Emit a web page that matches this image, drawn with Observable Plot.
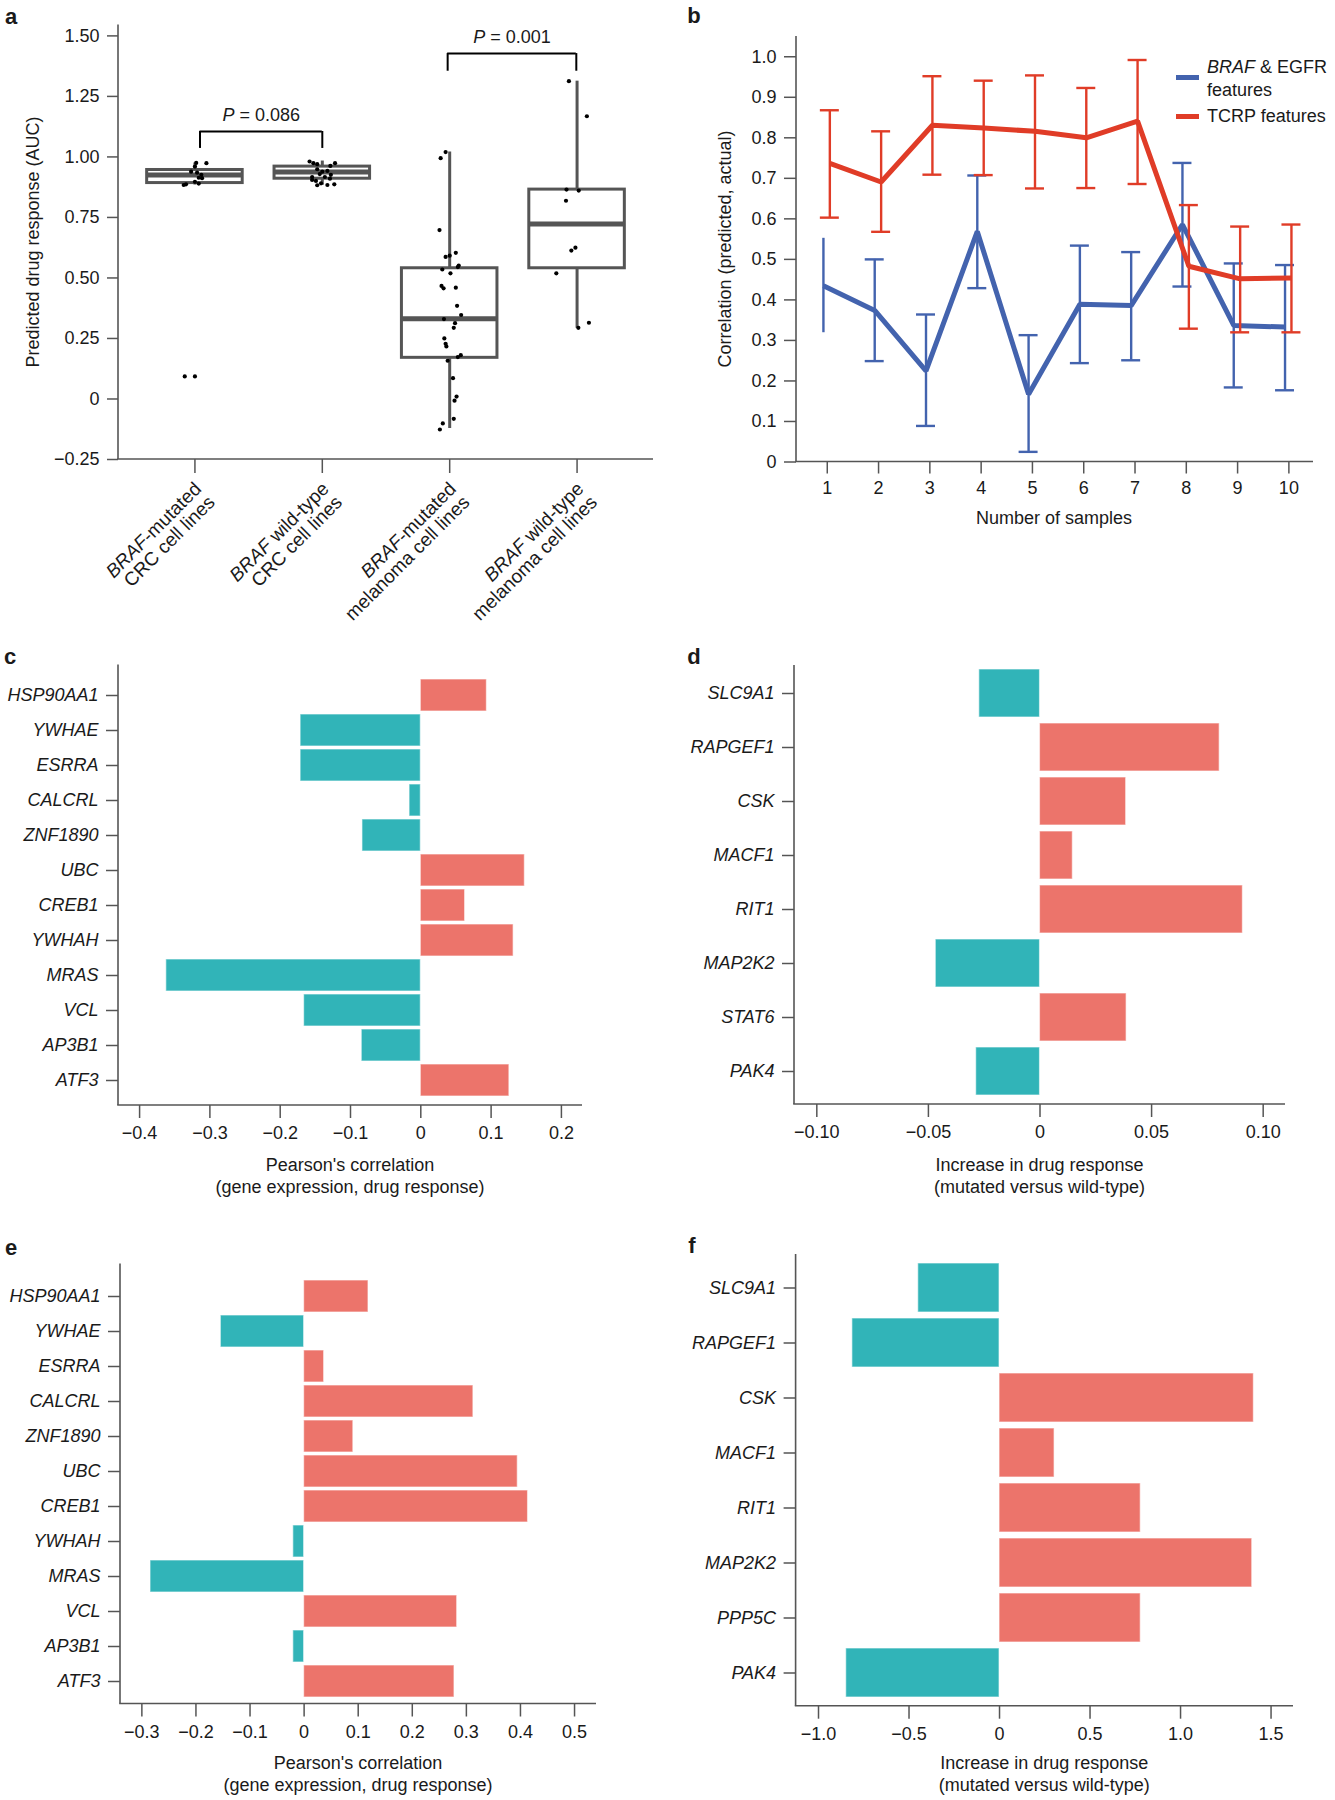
<!DOCTYPE html>
<html><head><meta charset="utf-8">
<script src="https://cdn.jsdelivr.net/npm/d3@7"></script>
<script src="https://cdn.jsdelivr.net/npm/@observablehq/plot@0.6"></script>
<style>
body{margin:0;background:#fff;font-family:"Liberation Sans",Arial,sans-serif;color:#1a1a1a;}
#page{position:relative;width:1335px;height:1800px;overflow:hidden;background:#fff;}
.panel{position:absolute;}
.t{position:absolute;font-size:18px;line-height:22px;white-space:nowrap;text-align:center;transform:translate(-50%,-50%);}
.rot{transform:translate(-50%,-50%) rotate(-90deg);}
.letter{position:absolute;font-weight:bold;font-size:22px;line-height:22px;transform:translate(-50%,-50%);}
.leg{position:absolute;font-size:18px;line-height:23px;white-space:nowrap;}
.sw{position:absolute;width:23px;height:5px;}
</style></head>
<body><div id="page"></div>
<script>
// ---------- Panel a data ----------
const groupLabels = ["BRAF-mutated\nCRC cell lines", "BRAF wild-type\nCRC cell lines", "BRAF-mutated\nmelanoma cell lines", "BRAF wild-type\nmelanoma cell lines"];
const boxQ1 = [0.892, 0.910, 0.170, 0.540];
const boxMedian = [0.925, 0.938, 0.331, 0.723];
const boxQ3 = [0.946, 0.960, 0.540, 0.865];
const whiskerLow = [0.884, 0.883, -0.122, 0.292];
const whiskerHigh = [0.975, 0.983, 1.020, 1.313];
const crcMutValues = [0.975, 0.974, 0.960, 0.939, 0.935, 0.926, 0.914, 0.912, 0.897, 0.890, 0.884, 0.887, 0.093, 0.093];
const crcMutJitter = [0.01, 0.09, 0.0, -0.03, 0.017, 0.05, 0.03, 0.056, 0.0, 0.03, -0.088, -0.07, -0.08, 0.0];
const crcWtValues = [0.981, 0.974, 0.970, 0.974, 0.963, 0.949, 0.939, 0.942, 0.929, 0.926, 0.917, 0.917, 0.901, 0.905, 0.891, 0.884, 0.887, 0.883, 0.910];
const crcWtJitter = [-0.10, -0.07, -0.04, 0.10, 0.063, -0.04, 0.0, 0.04, -0.02, 0.067, -0.08, 0.02, -0.05, -0.08, -0.01, 0.04, 0.094, -0.04, 0.06];
const melMutValues = [1.020, 0.995, 0.698, 0.587, 0.592, 0.604, 0.535, 0.519, 0.551, 0.545, 0.467, 0.457, 0.460, 0.385, 0.347, 0.330, 0.313, 0.294, 0.250, 0.228, 0.217, 0.181, 0.173, 0.158, 0.086, 0.010, -0.007, -0.082, -0.101, -0.126];
const melMutJitter = [-0.032, -0.071, -0.080, -0.032, 0.0, 0.048, -0.058, 0.006, 0.071, 0.064, -0.064, -0.048, 0.048, 0.058, 0.090, -0.045, 0.042, 0.032, -0.042, -0.032, -0.026, 0.087, 0.064, -0.016, 0.026, 0.054, 0.038, 0.032, -0.054, -0.077];
const melWtValues = [1.313, 1.168, 0.865, 0.861, 0.819, 0.625, 0.613, 0.519, 0.294, 0.315];
const melWtJitter = [-0.064, 0.077, -0.083, 0.013, -0.087, -0.013, -0.045, -0.163, 0.010, 0.093];
const aTicks = [-0.25, 0, 0.25, 0.5, 0.75, 1.0, 1.25, 1.5];
const bracketLeft = [1.04, 2.984];
const bracketRight = [2.0, 3.994];
const bracketTop = [1.105, 1.427];
const bracketEnd = [1.035, 1.354];
const bracketLabels = ["P = 0.086", "P = 0.001"];

// ---------- Panel b data ----------
const nSamples = [1, 2, 3, 4, 5, 6, 7, 8, 9, 10];
const brafMean = [0.435, 0.374, 0.225, 0.569, 0.167, 0.389, 0.386, 0.586, 0.337, 0.333];
const brafLow  = [0.319, 0.249, 0.089, 0.429, 0.025, 0.244, 0.251, 0.433, 0.184, 0.177];
const brafHigh = [0.552, 0.500, 0.364, 0.707, 0.313, 0.534, 0.518, 0.738, 0.490, 0.486];
const brafCapped = [false, true, true, true, true, true, true, true, true, true];
const tcrpMean = [0.737, 0.691, 0.831, 0.824, 0.816, 0.800, 0.841, 0.483, 0.452, 0.454];
const tcrpLow  = [0.603, 0.568, 0.709, 0.708, 0.675, 0.676, 0.686, 0.329, 0.320, 0.320];
const tcrpHigh = [0.868, 0.816, 0.952, 0.941, 0.954, 0.923, 0.992, 0.634, 0.581, 0.586];
const tcrpCapped = [true, true, true, true, true, true, true, true, true, true];
const bTicks = [0, 0.1, 0.2, 0.3, 0.4, 0.5, 0.6, 0.7, 0.8, 0.9, 1.0];

// ---------- Panels c-f data ----------
const genesCE = ["HSP90AA1", "YWHAE", "ESRRA", "CALCRL", "ZNF1890", "UBC", "CREB1", "YWHAH", "MRAS", "VCL", "AP3B1", "ATF3"];
const corrC = [0.094, -0.171, -0.171, -0.016, -0.083, 0.148, 0.063, 0.132, -0.362, -0.166, -0.084, 0.126];
const corrE = [0.119, -0.154, 0.037, 0.313, 0.091, 0.395, 0.414, -0.020, -0.284, 0.283, -0.020, 0.278];
const genesD = ["SLC9A1", "RAPGEF1", "CSK", "MACF1", "RIT1", "MAP2K2", "STAT6", "PAK4"];
const incD = [-0.0272, 0.0805, 0.0386, 0.0147, 0.0909, -0.0467, 0.0388, -0.0286];
const genesF = ["SLC9A1", "RAPGEF1", "CSK", "MACF1", "RIT1", "MAP2K2", "PPP5C", "PAK4"];
const incF = [-0.449, -0.813, 1.405, 0.304, 0.780, 1.396, 0.780, -0.847];
const cTicks = [-0.4, -0.3, -0.2, -0.1, 0, 0.1, 0.2];
const dTicks = [-0.10, -0.05, 0, 0.05, 0.10];
const eTicks = [-0.3, -0.2, -0.1, 0, 0.1, 0.2, 0.3, 0.4, 0.5];
const fTicks = [-1.0, -0.5, 0, 0.5, 1.0, 1.5];

// ---------- styling ----------
const FONT = '"Liberation Sans", Arial, sans-serif';
const INK = "#1a1a1a";
const AXIS = "#555";
const BOXC = "#555";
const BLUE = "#4363ae";
const RED = "#e03c27";
const TEAL = "#31b4b8";
const SALMON = "#ec746b";
const page = document.getElementById("page");

function place(node, left, top) {
  const d = document.createElement("div");
  d.className = "panel"; d.style.left = left + "px"; d.style.top = top + "px";
  d.appendChild(node); page.appendChild(d);
}
function html(cls, x, y, inner) {
  const d = document.createElement("div");
  d.className = cls; d.style.left = x + "px"; d.style.top = y + "px";
  d.innerHTML = inner; page.appendChild(d);
  return d;
}
function finish(svg, w, h, m) {
  const s = d3.select(svg);
  s.selectAll('g[aria-label="x-axis tick"], g[aria-label="y-axis tick"]').attr("stroke", AXIS).attr("stroke-width", 1.5);
  s.append("line").attr("x1", m.left).attr("x2", m.left).attr("y1", m.top).attr("y2", h - m.bottom)
    .attr("stroke", AXIS).attr("stroke-width", 1.6);
  s.append("line").attr("x1", m.left - 0.8).attr("x2", w - m.right).attr("y1", h - m.bottom).attr("y2", h - m.bottom)
    .attr("stroke", AXIS).attr("stroke-width", 1.6);
}
const fmt = (p) => (d) => d === 0 ? "0" : d3.format(p)(d);

// ---------- Panel a ----------
{
  const W = 660, H = 620, m = {top: 24.5, right: 7, bottom: 161, left: 118};
  const boxes = groupLabels.map((label, i) => ({g: i + 1, q1: boxQ1[i], med: boxMedian[i], q3: boxQ3[i], lo: whiskerLow[i], hi: whiskerHigh[i]}));
  const groups = [[crcMutValues, crcMutJitter], [crcWtValues, crcWtJitter], [melMutValues, melMutJitter], [melWtValues, melWtJitter]];
  const pts = [];
  groups.forEach(([vals, jit], i) => vals.forEach((v, k) => pts.push({g: i + 1, v, j: jit[k]})));
  const brackets = bracketLabels.map((label, i) => ({x1: bracketLeft[i], x2: bracketRight[i], top: bracketTop[i], end: bracketEnd[i], label}));
  const HW = 0.375;
  const plot = Plot.plot({
    width: W, height: H, marginTop: m.top, marginRight: m.right, marginBottom: m.bottom, marginLeft: m.left,
    style: {fontFamily: FONT, fontSize: "18px", color: INK, background: "transparent", overflow: "visible"},
    x: {domain: [0.4, 4.6]},
    y: {domain: [-0.25, 1.545]},
    marks: [
      Plot.axisY({ticks: aTicks, tickFormat: fmt(".2f"), tickSize: 11, tickPadding: 8, label: null}),
      Plot.axisX({ticks: [1, 2, 3, 4], tickFormat: (i) => groupLabels[i - 1], tickRotate: -45, tickSize: 14, tickPadding: 4, fontSize: 19, label: null}),
      Plot.ruleX(boxes, {x: "g", y1: "lo", y2: "hi", stroke: BOXC, strokeWidth: 3}),
      Plot.rect(boxes, {x1: (d) => d.g - HW, x2: (d) => d.g + HW, y1: "q1", y2: "q3", fill: "white", stroke: BOXC, strokeWidth: 3}),
      Plot.ruleY(boxes, {y: "med", x1: (d) => d.g - HW, x2: (d) => d.g + HW, stroke: BOXC, strokeWidth: 5}),
      Plot.dot(pts, {x: (d) => d.g + d.j, y: "v", r: 2.1, fill: "black", stroke: null}),
      Plot.ruleY(brackets, {y: "top", x1: "x1", x2: "x2", stroke: "black", strokeWidth: 2}),
      Plot.ruleX(brackets, {x: "x1", y1: "end", y2: "top", stroke: "black", strokeWidth: 2}),
      Plot.ruleX(brackets, {x: "x2", y1: "end", y2: "top", stroke: "black", strokeWidth: 2}),
      Plot.text(brackets, {x: (d) => (d.x1 + d.x2) / 2, y: "top", text: "label", dy: -16, fontSize: 18})
    ]
  });
  finish(plot, W, H, m);
  const s = d3.select(plot);
  const lab = s.select('g[aria-label="x-axis tick label"]');
  lab.attr("font-size", 19).attr("transform", (lab.attr("transform") || "") + " translate(10,15)");
  lab.selectAll("tspan").each(function () {
    const t = this.textContent;
    if (t.startsWith("BRAF")) {
      const el = d3.select(this); el.text("");
      el.append("tspan").attr("font-style", "italic").text("BRAF");
      el.append("tspan").text(t.slice(4));
    }
  });
  s.selectAll('g[aria-label="text"] text').each(function () {
    const t = this.textContent;
    if (t.startsWith("P =")) {
      const el = d3.select(this); el.text("");
      el.append("tspan").attr("font-style", "italic").text("P");
      el.append("tspan").text(t.slice(1));
    }
  });
  place(plot, 0, 0);
  html("t rot", 33, 242, "Predicted drug response (AUC)");
  html("letter", 11, 17, "a");
}

// ---------- Panel b ----------
{
  const W = 675, H = 620, m = {top: 36, right: 22, bottom: 158.5, left: 136};
  const BOFF = -0.075, ROFF = 0.05, CAP = 0.185;
  const blue = nSamples.map((n, i) => ({n: n + BOFF, m: brafMean[i], lo: brafLow[i], hi: brafHigh[i], cap: brafCapped[i]}));
  const red = nSamples.map((n, i) => ({n: n + ROFF, m: tcrpMean[i], lo: tcrpLow[i], hi: tcrpHigh[i], cap: tcrpCapped[i]}));
  const series = (data, color) => [
    Plot.ruleX(data, {x: "n", y1: "lo", y2: "hi", stroke: color, strokeWidth: 2.4}),
    Plot.ruleY(data, {filter: "cap", y: "lo", x1: (d) => d.n - CAP, x2: (d) => d.n + CAP, stroke: color, strokeWidth: 2.4}),
    Plot.ruleY(data, {filter: "cap", y: "hi", x1: (d) => d.n - CAP, x2: (d) => d.n + CAP, stroke: color, strokeWidth: 2.4}),
    Plot.line(data, {x: "n", y: "m", stroke: color, strokeWidth: 5, strokeLinejoin: "miter", strokeLinecap: "butt"})
  ];
  const plot = Plot.plot({
    width: W, height: H, marginTop: m.top, marginRight: m.right, marginBottom: m.bottom, marginLeft: m.left,
    style: {fontFamily: FONT, fontSize: "18px", color: INK, background: "transparent", overflow: "visible"},
    x: {domain: [0.4, 10.48]},
    y: {domain: [0, 1.05]},
    marks: [
      Plot.axisY({ticks: bTicks, tickFormat: fmt(".1f"), tickSize: 12, tickPadding: 8, label: null}),
      Plot.axisX({ticks: nSamples, tickFormat: (d) => String(d), tickSize: 12, tickPadding: 7, label: null}),
      ...series(blue, BLUE),
      ...series(red, RED)
    ]
  });
  finish(plot, W, H, m);
  place(plot, 660, 0);
  html("t rot", 725, 249, "Correlation (predicted, actual)");
  html("t", 1054, 518, "Number of samples");
  html("letter", 694, 16, "b");
  html("sw", 1176, 75, "").style.background = BLUE;
  html("sw", 1176, 114, "").style.background = RED;
  html("leg", 1207, 56, "<i>BRAF</i> &amp; EGFR<br>features");
  html("leg", 1207, 105, "TCRP features");
}

// ---------- Panels c-f ----------
function barPanel(o) {
  const {genes, values, left, top, W, H, m, domain, ticks, f, inset, pad, title, letter, lx, ly} = o;
  const data = genes.map((gene, i) => ({gene, v: values[i]}));
  const plot = Plot.plot({
    width: W, height: H, marginTop: m.top, marginRight: m.right, marginBottom: m.bottom, marginLeft: m.left,
    style: {fontFamily: FONT, fontSize: "18px", color: INK, background: "transparent", overflow: "visible"},
    x: {domain},
    y: {domain: genes, type: "band", paddingInner: pad, paddingOuter: 0.05, insetTop: inset[0], insetBottom: inset[1]},
    color: {domain: ["neg", "pos"], range: [TEAL, SALMON]},
    marks: [
      Plot.barX(data, {x: "v", y: "gene", fill: (d) => d.v < 0 ? "neg" : "pos", stroke: "white", strokeOpacity: 0.55, strokeWidth: 1.2}),
      Plot.axisX({ticks, tickFormat: f, tickSize: 13, tickPadding: 8, label: null}),
      Plot.axisY({tickSize: 12, tickPadding: 8, label: null, fontStyle: "italic"})
    ]
  });
  finish(plot, W, H, m);
  d3.select(plot).selectAll('g[aria-label="y-axis tick label"] text').attr("font-style", "italic");
  place(plot, left, top);
  const cx = left + m.left + (W - m.left - m.right) / 2;
  html("t", cx, top + H - m.bottom + o.titleDy, title);
  html("letter", lx, ly, letter);
}

barPanel({genes: genesCE, values: corrC, left: 0, top: 630, W: 660, H: 580,
  m: {top: 34.5, right: 78, bottom: 105, left: 118}, domain: [-0.43, 0.23], ticks: cTicks, f: fmt(".1f"),
  inset: [8, 2.7], pad: 0.095, title: "Pearson's correlation<br>(gene expression, drug response)", titleDy: 71, letter: "c", lx: 10, ly: 657});
barPanel({genes: genesD, values: incD, left: 660, top: 630, W: 675, H: 580,
  m: {top: 35, right: 50, bottom: 106, left: 134}, domain: [-0.11, 0.11], ticks: dTicks, f: fmt(".2f"),
  inset: [0, 5], pad: 0.11, title: "Increase in drug response<br>(mutated versus wild-type)", titleDy: 72, letter: "d", lx: 694, ly: 657});
barPanel({genes: genesCE, values: corrE, left: 0, top: 1220, W: 660, H: 580,
  m: {top: 43.6, right: 64, bottom: 96.5, left: 120}, domain: [-0.3395, 0.5406], ticks: eTicks, f: fmt(".1f"),
  inset: [14.5, 4], pad: 0.094, title: "Pearson's correlation<br>(gene expression, drug response)", titleDy: 70, letter: "e", lx: 11, ly: 1248});
barPanel({genes: genesF, values: incF, left: 660, top: 1220, W: 675, H: 580,
  m: {top: 34, right: 42, bottom: 94.3, left: 135.6}, domain: [-1.1238, 1.624], ticks: fTicks, f: fmt(".1f"),
  inset: [5.7, 5.6], pad: 0.107, title: "Increase in drug response<br>(mutated versus wild-type)", titleDy: 68, letter: "f", lx: 692, ly: 1246});
</script>
</body></html>
